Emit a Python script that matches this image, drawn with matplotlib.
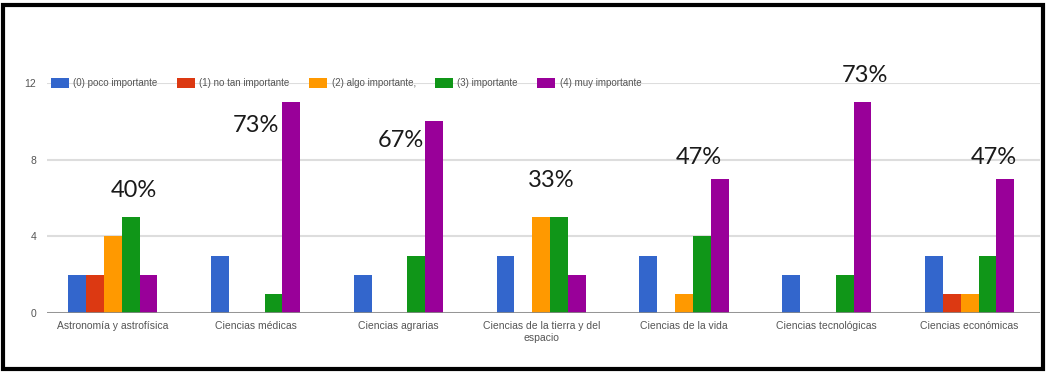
import matplotlib.pyplot as plt
import matplotlib.patches as mpatches
import numpy as np

categorias = ["Astronomía y astrofísica", "Ciencias médicas", "Ciencias agrarias",
              "Ciencias de la tierra y del\nespacio", "Ciencias de la vida",
              "Ciencias tecnológicas", "Ciencias económicas"]
series = ["(0) poco importante", "(1) no tan importante", "(2) algo importante,",
          "(3) importante", "(4) muy importante"]
poco = [2, 3, 2, 3, 3, 2, 3]
no_tan = [2, 0, 0, 0, 0, 0, 1]
algo = [4, 0, 0, 5, 1, 0, 1]
importante = [5, 1, 3, 5, 4, 2, 3]
muy = [2, 11, 10, 2, 7, 11, 7]
porcentajes = ["40%", "73%", "67%", "33%", "47%", "73%", "47%"]

colores = ["#3366cc", "#dc3912", "#ff9900", "#109618", "#990099"]
# desplazamiento (x, y) de cada etiqueta de porcentaje
etiq_dx = [0.15, 0.0, 0.02, 0.07, 0.1, 0.27, 0.17]
etiq_dy = [6.4, 9.8, 9.0, 6.9, 8.1, 12.4, 8.1]

fig = plt.figure(figsize=(10.48, 3.73), dpi=100)
ax = fig.add_axes([0.045, 0.161, 0.947, 0.616])

x = np.arange(len(categorias))
w = 0.125
datos = [poco, no_tan, algo, importante, muy]
for i, (d, c, s) in enumerate(zip(datos, colores, series)):
    ax.bar(x + (i - 2) * w, d, w, color=c, label=s, zorder=3)

for xi, t, dx, dy in zip(x, porcentajes, etiq_dx, etiq_dy):
    ax.text(xi + dx, dy, t, ha="center", va="center", fontsize=17,
            family="Lato", color="#1a1a1a", clip_on=False, zorder=4)

ax.set_xlim(-0.46, 6.49)
ax.set_ylim(0, 12)
ax.set_yticks([0, 4, 8, 12])
ax.set_xticks(x)
ax.set_xticklabels(categorias)
ax.tick_params(length=0, labelsize=7.5, colors="#555555")
ax.tick_params(axis="x", pad=6)
ax.tick_params(axis="y", pad=8)
for lab in ax.get_xticklabels() + ax.get_yticklabels():
    lab.set_family("Liberation Sans")
ax.grid(axis="y", color="#dddddd", linewidth=1.5, zorder=0)
for s in ax.spines.values():
    s.set_visible(False)
ax.axhline(0, color="#888888", linewidth=1.2, zorder=4)

leg = ax.legend(loc="center left", bbox_to_anchor=(0.0, 1.0), ncol=5, frameon=False,
                handlelength=1.8, handleheight=1.1, columnspacing=2.0,
                handletextpad=0.5, borderaxespad=0.0,
                prop={"family": "Liberation Sans", "size": 7})
for t in leg.get_texts():
    t.set_color("#555555")

fig.patches.append(mpatches.Rectangle((0.003, 0.012), 0.992, 0.975, transform=fig.transFigure,
                                      fill=False, edgecolor="black", linewidth=3))

fig.savefig("out.png", dpi=100)
